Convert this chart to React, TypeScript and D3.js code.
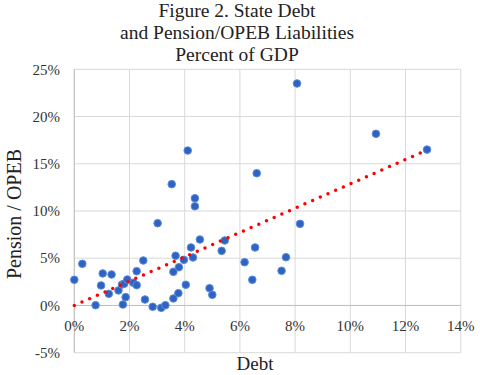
import React from "react";
import * as d3 from "d3";

const debt = [0.0, 0.29, 0.77, 0.97, 1.03, 1.25, 1.35, 1.6, 1.73, 1.76, 1.81, 1.86, 1.92, 2.14, 2.26, 2.26, 2.5, 2.56, 2.84, 3.02, 3.15, 3.3, 3.53, 3.59, 3.59, 3.67, 3.77, 3.79, 3.97, 4.04, 4.11, 4.23, 4.3, 4.37, 4.37, 4.55, 4.9, 5.0, 5.34, 5.45, 6.17, 6.45, 6.55, 6.61, 7.51, 7.67, 8.07, 8.18, 10.93, 12.78];
const pension = [2.72, 4.41, 0.03, 2.12, 3.39, 1.23, 3.28, 1.59, 2.22, 0.1, 2.3, 0.88, 2.75, 2.4, 2.15, 3.63, 4.76, 0.63, -0.14, 8.71, -0.25, 0.03, 12.84, 3.56, 0.74, 5.26, 1.3, 4.05, 4.83, 2.19, 16.4, 6.14, 5.08, 11.35, 10.5, 6.98, 1.83, 1.13, 5.78, 6.88, 4.58, 2.72, 6.14, 14.0, 3.67, 5.11, 23.5, 8.64, 18.17, 16.5];
const trendX = [0, 12.78];
const trendY = [0, 16.45];
const xTicks = [0, 2, 4, 6, 8, 10, 12, 14];
const yTicks = [-5, 0, 5, 10, 15, 20, 25];
const titleLines = ["Figure 2. State Debt", "and Pension/OPEB Liabilities", "Percent of GDP"];

const W = 480, H = 375;
const L = 74.3, R = 460.7, T = 69.3, B = 352.7;
const FONT = "Liberation Serif, Times New Roman, serif";

export default function App() {
  const x = d3.scaleLinear().domain([0, 14]).range([L, R]);
  const y = d3.scaleLinear().domain([-5, 25]).range([B, T]);
  const line = d3.line<number>().x((d, i) => x(trendX[i])).y((d, i) => y(trendY[i]));
  const ts = { fontFamily: FONT };
  return (
    <svg width={W} height={H} style={{ position: "absolute", left: 0, top: 0, background: "#fff", fontFamily: FONT }}>
      <rect x={0} y={0} width={W} height={H} fill="#fff" />
      {titleLines.map((t, i) => (
        <text key={t} x={237} y={17 + i * 22} textAnchor="middle" fontSize={19.5} fill="#222" style={ts}>{t}</text>
      ))}
      {yTicks.map((v) => (
        <line key={"gy" + v} x1={L} x2={R} y1={y(v)} y2={y(v)} stroke="#d9d9d9" strokeWidth={1} />
      ))}
      {xTicks.map((v) => (
        <line key={"gx" + v} x1={x(v)} x2={x(v)} y1={T} y2={B} stroke="#d9d9d9" strokeWidth={1} />
      ))}
      <line x1={L} x2={R} y1={y(0)} y2={y(0)} stroke="#bfbfbf" strokeWidth={1} />
      <line x1={L} x2={L} y1={T} y2={B} stroke="#bfbfbf" strokeWidth={1} />
      {yTicks.map((v) => (
        <text key={"ty" + v} x={60} y={y(v)} dy="0.35em" textAnchor="end" fontSize={15} fill="#333" style={ts}>{v + "%"}</text>
      ))}
      {xTicks.map((v) => (
        <text key={"tx" + v} x={x(v)} y={331} textAnchor="middle" fontSize={15} fill="#333" style={ts}>{v + "%"}</text>
      ))}
      {debt.map((d, i) => (
        <circle key={"p" + i} cx={x(d)} cy={y(pension[i])} r={3.8} fill="#2f62c2" stroke="#5b8ddb" strokeWidth={1} />
      ))}
      <path d={line(trendX) || ""} fill="none" stroke="#ff0000" strokeWidth={3.5} strokeLinecap="round" strokeDasharray="0 8.4" />
      <text x={255} y={370} textAnchor="middle" fontSize={19} fill="#222" style={ts}>Debt</text>
      <text transform="translate(21,214) rotate(-90)" textAnchor="middle" fontSize={20} fill="#222" style={ts}>Pension / OPEB</text>
    </svg>
  );
}
